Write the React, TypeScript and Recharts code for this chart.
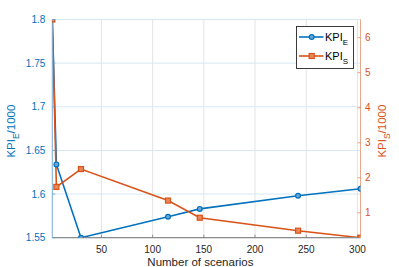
import React from 'react';
import { LineChart, Line, XAxis, YAxis, CartesianGrid, Legend } from 'recharts';

const scenarios = [2, 6, 30, 115, 146, 242, 303];
const kpiE = [1.8, 1.634, 1.55, 1.574, 1.583, 1.598, 1.606];
const kpiS = [6.52, 1.74, 2.25, 1.35, 0.86, 0.49, 0.29];
const xTicks = [50, 100, 150, 200, 250, 300];
const leftTicks = [1.55, 1.6, 1.65, 1.7, 1.75, 1.8];
const rightTicks = [1, 2, 3, 4, 5, 6];
const seriesNames = ['KPI_E', 'KPI_S'];
const xLabel = 'Number of scenarios';
const leftLabel = 'KPI_E/1000';
const rightLabel = 'KPI_S/1000';

const data = scenarios.map((x, i) => ({ x, e: kpiE[i], s: kpiS[i] }));

const BLUE = '#0072BD';
const ORANGE = '#D95319';
const DARK = '#262626';
const FONT = '"Liberation Sans", Arial, Helvetica, sans-serif';

function subParts(label: string, subSize: number, shift: number) {
  const [main, rest] = label.split('_');
  if (rest === undefined) return [<tspan key="m">{main}</tspan>];
  const sub = rest.charAt(0);
  const tail = rest.slice(1);
  const parts = [
    <tspan key="m">{main}</tspan>,
    <tspan key="s" dy={shift} fontSize={subSize}>{sub}</tspan>,
  ];
  if (tail) parts.push(<tspan key="t" dy={-shift}>{tail}</tspan>);
  return parts;
}

const XTick = (props: any) => {
  const { x, y, payload } = props;
  return (
    <g>
      <line x1={x} y1={y} x2={x} y2={y - 3} stroke="#7a7a7a" strokeWidth={0.8} />
      <text x={x} y={y + 15} textAnchor="middle" fontSize={10} fontFamily={FONT} fill={DARK}>
        {payload.value}
      </text>
    </g>
  );
};

const LeftTick = (props: any) => {
  const { x, y, payload } = props;
  return (
    <g>
      <line x1={x} y1={y} x2={x + 3} y2={y} stroke="#5f9fd0" strokeWidth={0.8} />
      <text x={x - 7} y={y + 3.6} textAnchor="end" fontSize={10} fontFamily={FONT} fill={BLUE}>
        {payload.value}
      </text>
    </g>
  );
};

const RightTick = (props: any) => {
  const { x, y, payload } = props;
  return (
    <g>
      <line x1={x} y1={y} x2={x - 3} y2={y} stroke="#e08a62" strokeWidth={0.8} />
      <text x={x + 4.5} y={y + 3.6} textAnchor="start" fontSize={10} fontFamily={FONT} fill={ORANGE}>
        {payload.value}
      </text>
    </g>
  );
};

const SquareDot = (props: any) => {
  const { cx, cy, index } = props;
  if (cx == null || cy == null) return <g key={`sq-${index}`} />;
  return (
    <rect
      key={`sq-${index}`}
      x={cx - 2.5}
      y={cy - 2.5}
      width={5}
      height={5}
      fill="#e8875a"
      stroke={ORANGE}
      strokeWidth={1.2}
    />
  );
};

const CircleDot = (props: any) => {
  const { cx, cy, index } = props;
  if (cx == null || cy == null) return <g key={`c-${index}`} />;
  return <circle key={`c-${index}`} cx={cx} cy={cy} r={2.4} fill="#6aa6d6" stroke={BLUE} strokeWidth={1.2} />;
};

const LegendContent = (props: any) => {
  const payload = props.payload || [];
  return (
    <svg width={59} height={44} style={{ display: 'block' }}>
      <rect x={0.5} y={0.5} width={57} height={42} fill="#ffffff" stroke={DARK} strokeWidth={0.9} />
      {payload.map((entry: any, i: number) => {
        const cy = 11 + i * 19;
        const color = entry.color;
        return (
          <g key={i}>
            <line x1={3} y1={cy} x2={27.5} y2={cy} stroke={color} strokeWidth={1.6} />
            {i === 0 ? (
              <circle cx={15.7} cy={cy} r={2.4} fill="#6aa6d6" stroke={color} strokeWidth={1.2} />
            ) : (
              <rect x={13.2} y={cy - 2.5} width={5} height={5} fill="#e8875a" stroke={color} strokeWidth={1.2} />
            )}
            <text x={29} y={cy + 4.3} fontSize={11} fontFamily={FONT} fill="#000000">
              {subParts(String(entry.value), 8, 4)}
            </text>
          </g>
        );
      })}
    </svg>
  );
};

export default function App() {
  return (
    <div style={{ position: 'absolute', left: 0, top: 0, width: 399, height: 267, background: '#fff' }}>
      <LineChart width={399} height={267} data={data} margin={{ top: 19.5, right: 0, bottom: 0, left: 0 }}>
        <CartesianGrid yAxisId="left" horizontal={false} vertical={true} stroke="#e4e4e4" strokeWidth={1} />
        <CartesianGrid yAxisId="left" horizontal={true} vertical={false} stroke="#d6e8f4" strokeWidth={1} />
        <XAxis
          dataKey="x"
          type="number"
          domain={[2, 303]}
          ticks={xTicks}
          allowDataOverflow
          height={29.3}
          tickSize={0}
          tickMargin={0}
          tickLine={false}
          tick={<XTick />}
          axisLine={{ stroke: '#8c8c8c', strokeWidth: 1.2 }}
          label={{
            content: (p: any) => {
              const vb = p.viewBox || { x: 52.3, y: 237.7, width: 308.2, height: 29.3 };
              return (
                <text x={vb.x + vb.width / 2 - 6} y={vb.y + 27.8} textAnchor="middle" fontSize={11.5} fontFamily={FONT} fill={DARK}>
                  {xLabel}
                </text>
              );
            },
          }}
        />
        <XAxis
          xAxisId="top"
          dataKey="x"
          type="number"
          orientation="top"
          domain={[2, 303]}
          ticks={xTicks}
          allowDataOverflow
          height={0}
          mirror
          tick={false}
          tickSize={3}
          tickLine={{ stroke: '#7a7a7a', strokeWidth: 0.8 }}
          axisLine={{ stroke: '#8c8c8c', strokeWidth: 1.2 }}
        />
        <YAxis
          yAxisId="left"
          orientation="left"
          type="number"
          domain={[1.55, 1.8]}
          ticks={leftTicks}
          allowDataOverflow
          width={52.3}
          tickSize={0}
          tickMargin={0}
          tickLine={false}
          tick={<LeftTick />}
          axisLine={{ stroke: '#7fb2dc', strokeWidth: 1 }}
          label={{
            content: (p: any) => {
              const vb = p.viewBox || { x: 0, y: 19.5, width: 52.3, height: 218.2 };
              const cx = vb.x + 15.5;
              const cy = vb.y + vb.height / 2 + 2.5;
              return (
                <text x={cx} y={cy} transform={`rotate(-90 ${cx} ${cy})`} textAnchor="middle" fontSize={11.5} fontFamily={FONT} fill={BLUE}>
                  {subParts(leftLabel, 8.5, 3.5)}
                </text>
              );
            },
          }}
        />
        <YAxis
          yAxisId="right"
          orientation="right"
          type="number"
          domain={[0.29, 6.52]}
          ticks={rightTicks}
          allowDataOverflow
          width={38.5}
          tickSize={0}
          tickMargin={0}
          tickLine={false}
          tick={<RightTick />}
          axisLine={{ stroke: '#e6a98c', strokeWidth: 1 }}
          label={{
            content: (p: any) => {
              const vb = p.viewBox || { x: 360.5, y: 19.5, width: 38.5, height: 218.2 };
              const cx = vb.x + 26;
              const cy = vb.y + vb.height / 2 + 2.5;
              return (
                <text x={cx} y={cy} transform={`rotate(-90 ${cx} ${cy})`} textAnchor="middle" fontSize={11.5} fontFamily={FONT} fill={ORANGE}>
                  {subParts(rightLabel, 8.5, 3.5)}
                </text>
              );
            },
          }}
        />
        <Legend
          verticalAlign="middle"
          align="center"
          content={<LegendContent />}
          wrapperStyle={{ position: 'absolute', left: 296.3, top: 26, width: 59, height: 44 }}
        />
        <Line
          yAxisId="left"
          dataKey="e"
          name={seriesNames[0]}
          type="linear"
          stroke={BLUE}
          strokeWidth={1.6}
          dot={<CircleDot />}
          activeDot={false}
          isAnimationActive={false}
        />
        <Line
          yAxisId="right"
          dataKey="s"
          name={seriesNames[1]}
          type="linear"
          stroke={ORANGE}
          strokeWidth={1.6}
          dot={<SquareDot />}
          activeDot={false}
          isAnimationActive={false}
        />
      </LineChart>
    </div>
  );
}
